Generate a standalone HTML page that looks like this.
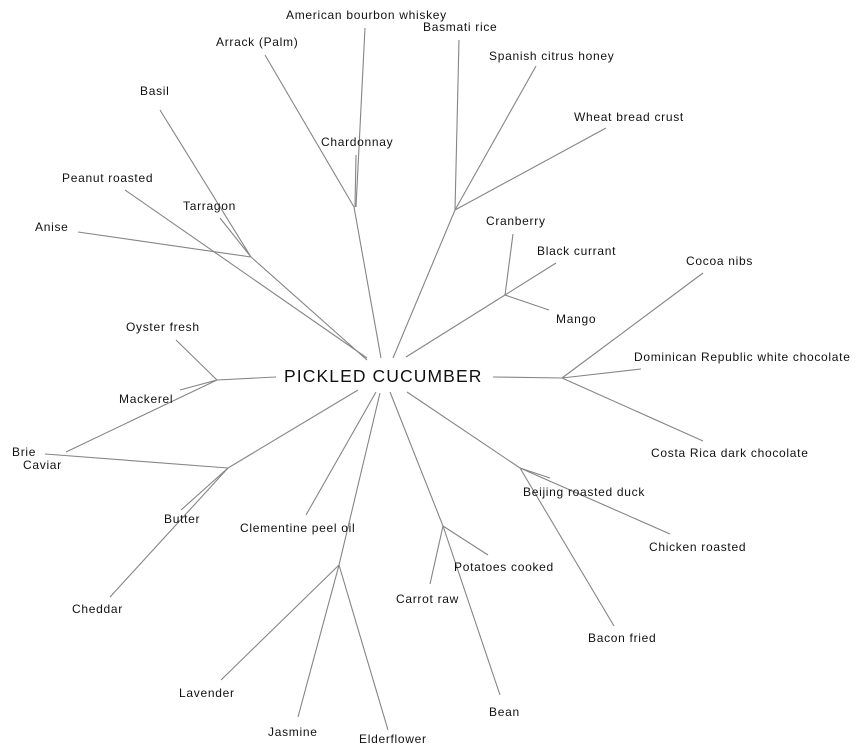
<!DOCTYPE html>
<html><head><meta charset="utf-8"><style>
html,body{margin:0;padding:0;background:#fff;}
svg{display:block;}
text{font-family:"Liberation Sans",Arial,sans-serif;font-size:12px;fill:#111;letter-spacing:0.7px;}
line{stroke:#858585;stroke-width:1.1;}
</style></head><body>
<svg width="864" height="755" viewBox="0 0 864 755">
<line x1="367" y1="360" x2="251" y2="257"/>
<line x1="251" y1="257" x2="160" y2="110"/>
<line x1="251" y1="257" x2="220" y2="218"/>
<line x1="251" y1="257" x2="78" y2="232"/>
<line x1="367" y1="358" x2="125" y2="190"/>
<line x1="381" y1="358" x2="354" y2="207"/>
<line x1="354" y1="207" x2="265" y2="55"/>
<line x1="356" y1="207" x2="365" y2="28"/>
<line x1="355" y1="207" x2="356" y2="155"/>
<line x1="393" y1="358" x2="455" y2="210"/>
<line x1="455" y1="210" x2="459" y2="40"/>
<line x1="455" y1="210" x2="536" y2="66"/>
<line x1="455" y1="210" x2="606" y2="128"/>
<line x1="406" y1="357" x2="505" y2="295"/>
<line x1="505" y1="295" x2="513" y2="234"/>
<line x1="505" y1="295" x2="556" y2="263"/>
<line x1="505" y1="295" x2="549" y2="310"/>
<line x1="493" y1="377" x2="562" y2="378"/>
<line x1="562" y1="378" x2="703" y2="273"/>
<line x1="562" y1="378" x2="641" y2="369"/>
<line x1="562" y1="378" x2="703" y2="441"/>
<line x1="407" y1="392" x2="520" y2="468"/>
<line x1="520" y1="468" x2="550" y2="478"/>
<line x1="520" y1="468" x2="670" y2="534"/>
<line x1="520" y1="468" x2="614" y2="626"/>
<line x1="390" y1="392" x2="443" y2="526"/>
<line x1="443" y1="526" x2="488" y2="555"/>
<line x1="443" y1="526" x2="430" y2="584"/>
<line x1="443" y1="526" x2="500" y2="695"/>
<line x1="380" y1="393" x2="339" y2="565"/>
<line x1="339" y1="565" x2="221" y2="680"/>
<line x1="339" y1="565" x2="298" y2="717"/>
<line x1="339" y1="565" x2="388" y2="730"/>
<line x1="376" y1="392" x2="306" y2="515"/>
<line x1="358" y1="390" x2="228" y2="468"/>
<line x1="228" y1="468" x2="45" y2="454"/>
<line x1="228" y1="468" x2="181" y2="510"/>
<line x1="228" y1="468" x2="110" y2="597"/>
<line x1="276" y1="377" x2="217" y2="380"/>
<line x1="217" y1="380" x2="176" y2="340"/>
<line x1="217" y1="380" x2="180" y2="390"/>
<line x1="217" y1="380" x2="66" y2="452"/>

<text x="284" y="382" style="font-size:17.5px;letter-spacing:1.1px">PICKLED CUCUMBER</text>
<text x="286" y="19">American bourbon whiskey</text>
<text x="423" y="31">Basmati rice</text>
<text x="216" y="46">Arrack (Palm)</text>
<text x="489" y="60">Spanish citrus honey</text>
<text x="140" y="95">Basil</text>
<text x="574" y="121">Wheat bread crust</text>
<text x="321" y="146">Chardonnay</text>
<text x="62" y="182">Peanut roasted</text>
<text x="183" y="210">Tarragon</text>
<text x="35" y="231">Anise</text>
<text x="486" y="225">Cranberry</text>
<text x="537" y="255">Black currant</text>
<text x="686" y="265">Cocoa nibs</text>
<text x="556" y="323">Mango</text>
<text x="126" y="331">Oyster fresh</text>
<text x="634" y="361">Dominican Republic white chocolate</text>
<text x="119" y="403">Mackerel</text>
<text x="12" y="456">Brie</text>
<text x="23" y="469">Caviar</text>
<text x="651" y="457">Costa Rica dark chocolate</text>
<text x="523" y="496">Beijing roasted duck</text>
<text x="164" y="523">Butter</text>
<text x="240" y="532">Clementine peel oil</text>
<text x="649" y="551">Chicken roasted</text>
<text x="454" y="571">Potatoes cooked</text>
<text x="396" y="603">Carrot raw</text>
<text x="72" y="613">Cheddar</text>
<text x="588" y="642">Bacon fried</text>
<text x="179" y="697">Lavender</text>
<text x="489" y="716">Bean</text>
<text x="268" y="736">Jasmine</text>
<text x="359" y="743">Elderflower</text>
</svg>
</body></html>
